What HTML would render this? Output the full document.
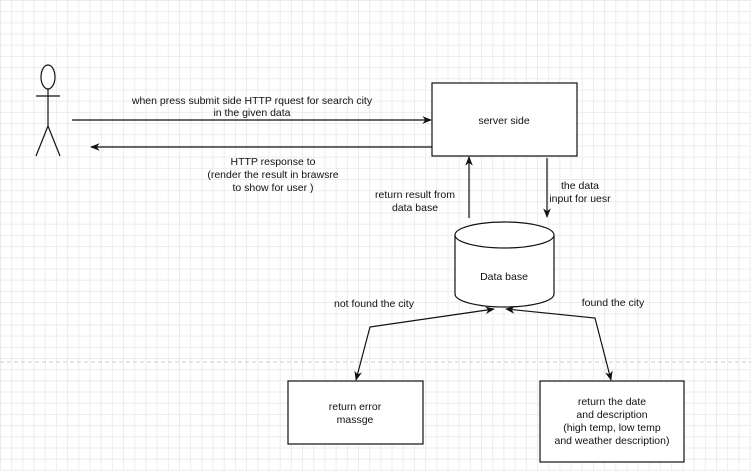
<!DOCTYPE html>
<html><head><style>
body{margin:0;width:751px;height:471px;overflow:hidden;background:#fff;
background-image:linear-gradient(#ececec 1px,transparent 1px),linear-gradient(90deg,#ececec 1px,transparent 1px);background-size:11.2px 11.2px;}
svg{position:absolute;left:0;top:0}
text{font-family:"Liberation Sans",sans-serif;font-size:10.5px;fill:#111;text-anchor:middle}
</style></head><body>
<svg width="751" height="471" viewBox="0 0 751 471">
<defs><marker id="a" viewBox="0 0 10 10" refX="9" refY="5" markerWidth="8" markerHeight="8" orient="auto-start-reverse"><path d="M0,1 L10,5 L0,9 L3,5z" fill="#111"/></marker></defs>
<line x1="0" y1="362" x2="751" y2="362" stroke="#ccc" stroke-dasharray="4,3"/>
<g stroke="#111" fill="none" stroke-width="1.2">
<ellipse cx="48" cy="77" rx="7" ry="12" fill="#fff"/>
<line x1="48" y1="89" x2="48" y2="126"/>
<line x1="36" y1="96" x2="60" y2="96"/>
<line x1="48" y1="126" x2="36" y2="156"/>
<line x1="48" y1="126" x2="60" y2="156"/>
<rect x="432" y="83" width="145" height="73" fill="#fff"/>
<line x1="72" y1="120" x2="431" y2="120" marker-end="url(#a)"/>
<line x1="432" y1="147" x2="91" y2="147" marker-end="url(#a)"/>
<line x1="469" y1="218" x2="469" y2="157" marker-end="url(#a)"/>
<line x1="547" y1="158" x2="547" y2="217" marker-end="url(#a)"/>
<path d="M455,235 L455,294 A49.5,13 0 0 0 554,294 L554,235" fill="#fff"/>
<ellipse cx="504.5" cy="235" rx="49.5" ry="13" fill="#fff"/>
<rect x="288" y="381" width="135" height="63" fill="#fff"/>
<rect x="540" y="381" width="144" height="81" fill="#fff"/>
<polyline points="356,380 370,327 494,309" marker-start="url(#a)" marker-end="url(#a)"/>
<polyline points="506,309 595,318 611,380" marker-start="url(#a)" marker-end="url(#a)"/>
</g>
<text x="252" y="104">when press submit side HTTP rquest for search city</text>
<text x="252" y="116">in the given data</text>
<text x="504" y="124">server side</text>
<text x="273" y="165">HTTP response to</text>
<text x="273" y="178">(render the result in brawsre</text>
<text x="273" y="191">to show for user )</text>
<text x="415" y="198">return result  from</text>
<text x="415" y="211">data base</text>
<text x="580" y="189">the data</text>
<text x="580" y="202">input for uesr</text>
<text x="504" y="280">Data base</text>
<text x="374" y="307">not found the city</text>
<text x="613" y="306">found the city</text>
<text x="355" y="410">return error</text>
<text x="355" y="423">massge</text>
<text x="612" y="405">return the date</text>
<text x="612" y="418">and description</text>
<text x="612" y="431">(high temp, low temp</text>
<text x="612" y="444">and weather description)</text>
</svg>
</body></html>
